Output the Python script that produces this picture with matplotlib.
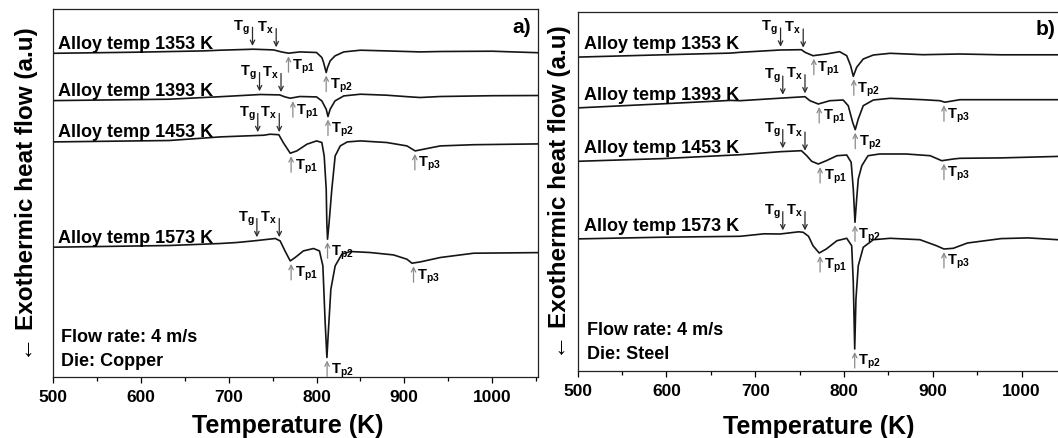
import numpy as np
import matplotlib
matplotlib.use('Agg')
import matplotlib.pyplot as plt
from matplotlib.ticker import MultipleLocator

plt.rcParams['font.family'] = ['Liberation Sans', 'DejaVu Sans']
plt.rcParams['font.weight'] = 'bold'
plt.rcParams['mathtext.fontset'] = 'custom'
plt.rcParams['mathtext.rm'] = 'Liberation Sans:bold'
plt.rcParams['mathtext.it'] = 'Liberation Sans:bold'
plt.rcParams['mathtext.bf'] = 'Liberation Sans:bold'
plt.rcParams['mathtext.default'] = 'rm'

alloy_temps = [1353, 1393, 1453, 1573]

# ---- a) copper die: temperature (K) / heat flow (a.u.)
cu_1353_T = [500, 593, 671, 690, 728, 751, 760, 768, 781, 800, 806, 808, 810, 811, 812.5, 815.5, 821, 831, 850, 880, 918, 941, 1000, 1052]
cu_1353_hf = [323.4, 324.5, 325.8, 326.5, 327.5, 326.8, 324.8, 323.5, 324.8, 324.2, 319.2, 314.2, 307.5, 304.2, 309.2, 315.8, 320.8, 324.8, 326.5, 325.8, 324.8, 325.2, 325.5, 324.0]

cu_1393_T = [500, 632, 690, 736, 758, 764, 770, 781, 800, 806, 811, 813, 815.5, 821, 831, 850, 880, 907, 918, 941, 1000, 1052]
cu_1393_hf = [276.1, 277.5, 280.0, 282.2, 281.8, 279.8, 278.5, 280.2, 279.8, 275.8, 267.5, 260.2, 267.5, 275.8, 280.8, 282.5, 281.5, 279.8, 279.2, 280.2, 281.0, 281.2]

cu_1453_T = [500, 632, 690, 740, 747, 757, 762, 770, 777.5, 789, 800, 806, 808.7, 811, 811.7, 812.5, 814.3, 817.4, 821.2, 827, 835, 850, 880, 903, 912.4, 922, 941, 979, 1052]
cu_1453_hf = [234.8, 236.2, 239.8, 241.5, 242.5, 242.0, 234.2, 223.5, 225.8, 232.5, 235.8, 234.2, 220.8, 187.5, 154.2, 137.5, 154.2, 187.5, 220.8, 230.8, 234.8, 235.8, 234.2, 230.8, 225.8, 227.5, 230.8, 232.0, 232.8]

cu_1573_T = [500, 632, 690, 709, 728, 753, 758.5, 764, 770, 775.6, 785, 796.5, 803.3, 807.2, 809.8, 811.8, 813.6, 816.3, 821.2, 828.8, 838.3, 861, 887.7, 903, 908.7, 918.2, 941, 979, 1052]
cu_1573_hf = [129.5, 131.2, 133.2, 134.2, 135.8, 138.2, 135.8, 125.8, 115.8, 119.2, 125.8, 128.2, 125.8, 110.8, 54.2, 19.2, 47.5, 87.5, 110.8, 122.5, 125.2, 124.2, 121.8, 117.5, 113.5, 114.8, 119.2, 123.5, 124.1]

# ---- b) steel die
st_1353_T = [500, 596, 672, 683, 728, 752, 756, 765, 780, 795, 803, 807.4, 810.4, 814.2, 821.6, 833, 852, 889, 930, 977, 1050]
st_1353_hf = [313.6, 315.9, 317.6, 318.4, 320.7, 321.0, 318.4, 315.0, 316.7, 319.0, 315.0, 305.0, 294.4, 303.4, 311.7, 315.7, 317.4, 316.0, 316.7, 315.9, 315.9]

st_1393_T = [500, 596, 672, 683, 731.5, 756, 761.6, 771, 784, 799, 804.7, 809.7, 812.6, 816, 821.6, 833, 852, 889, 908, 913.6, 930.5, 1050]
st_1393_hf = [262.8, 266.9, 270.3, 270.0, 272.7, 274.0, 270.0, 266.7, 270.0, 270.7, 265.0, 248.4, 241.0, 251.7, 265.0, 270.7, 272.4, 271.0, 270.0, 268.5, 271.0, 271.0]

st_1453_T = [500, 596, 672, 683, 728, 752, 758, 763.5, 771, 780, 792, 803, 808, 810.4, 812.3, 814.2, 816, 820, 827, 840, 870, 897, 910, 923, 930.5, 977, 1050]
st_1453_hf = [209.4, 212.1, 215.5, 216.0, 219.0, 220.0, 215.0, 209.4, 206.7, 210.0, 215.0, 215.7, 208.4, 181.7, 148.4, 171.7, 191.7, 205.0, 215.0, 216.7, 216.7, 215.0, 210.0, 211.7, 212.4, 212.8, 214.5]

st_1573_T = [500, 596, 683, 710, 728, 749, 754, 760, 765, 772, 780, 792, 803, 808.6, 810.4, 812, 813.4, 816, 821.6, 833, 852, 885.5, 904, 912.5, 923, 939, 977, 1007, 1050]
st_1573_hf = [131.8, 133.5, 134.4, 136.9, 136.7, 138.9, 138.4, 134.4, 125.0, 117.7, 121.7, 130.0, 132.4, 125.0, 88.4, 21.7, 71.7, 105.0, 123.4, 131.0, 132.4, 131.0, 125.0, 121.7, 122.4, 127.7, 132.1, 132.8, 130.5]

# characteristic temperatures marked on each curve (K), order = alloy_temps
cu_tg = [727, 735, 733, 732]
cu_tx = [754, 759.5, 757.5, 757.5]
cu_tp1 = [768, 773, 771, 771]
cu_tp2 = [811, 813, 812.5, 812]
cu_tp3 = [None, None, 912, 910.5]

st_tg = [728.5, 731, 731, 731]
st_tx = [754, 756, 756, 756]
st_tp1 = [766, 772, 773, 773]
st_tp2 = [811, 812.6, 812.3, 812]
st_tp3 = [None, 912.5, 912.5, 912.5]

PX = 0.72  # points per pixel at dpi 100

fig = plt.figure(figsize=(10.58, 4.39), dpi=100)
ax_a = fig.add_axes([0.0504, 0.1396, 0.4578, 0.8376])
ax_b = fig.add_axes([0.5460, 0.1533, 0.4616, 0.8164])


def mark_down(ax, t, T, hf, name):
    y = np.interp(t, T, hf)
    ax.annotate('', xy=(t, y), xytext=(0, 22 * PX), textcoords='offset points',
                arrowprops=dict(arrowstyle='->', color='#2b2b2b', lw=0.9,
                                shrinkA=0, shrinkB=3.3 * PX, mutation_scale=8))
    ax.annotate(r'$T_{%s}$' % name, xy=(t, y), xytext=(-2.5 * PX, 20 * PX),
                textcoords='offset points', ha='right', va='baseline', fontsize=10.5)


def mark_up(ax, t, T, hf, name):
    T = np.asarray(T)
    hf = np.asarray(hf)
    near = np.abs(T - t) <= 4
    y = hf[near].min() if near.any() else np.interp(t, T, hf)
    ax.annotate('', xy=(t, y), xytext=(0, -19 * PX), textcoords='offset points',
                arrowprops=dict(arrowstyle='->', color='#8a8a8a', lw=0.9,
                                shrinkA=0, shrinkB=3 * PX, mutation_scale=8))
    ax.annotate(r'$T_{%s}$' % name, xy=(t, y), xytext=(3.5 * PX, -15 * PX),
                textcoords='offset points', ha='left', va='baseline', fontsize=10.5)


def panel(ax, curves, tg, tx, tp1, tp2, tp3, xmax, lab_dx, lab_dy, die, tag, tag_xy,
          ylim, xlab_xy, ylab_x, note_x, note_y):
    for k, (T, hf) in enumerate(curves):
        ax.plot(T, hf, color='#151515', lw=1.2)
        ax.annotate(f'Alloy temp {alloy_temps[k]} K', xy=(T[0], hf[0]),
                    xytext=(lab_dx * PX, lab_dy * PX), textcoords='offset points',
                    fontsize=13, va='baseline', ha='left')
        mark_down(ax, tg[k], T, hf, 'g')
        mark_down(ax, tx[k], T, hf, 'x')
        mark_up(ax, tp1[k], T, hf, 'p1')
        mark_up(ax, tp2[k], T, hf, 'p2')
        if tp3[k] is not None:
            mark_up(ax, tp3[k], T, hf, 'p3')

    ax.set_xlim(500, xmax)
    ax.set_ylim(*ylim)
    ax.set_yticks([])
    ax.set_xticks(range(500, 1001, 100))
    ax.xaxis.set_minor_locator(MultipleLocator(50))
    ax.tick_params(axis='x', which='major', direction='out', length=4.1, width=0.9,
                   labelsize=12.5, pad=5)
    ax.tick_params(axis='x', which='minor', direction='out', length=2.9, width=0.9)
    for s in ax.spines.values():
        s.set_linewidth(0.9)
        s.set_color('#222222')

    ax.set_xlabel('Temperature (K)', fontsize=18, fontweight='bold')
    ax.xaxis.set_label_coords(*xlab_xy)
    ax.set_ylabel('\u2190 Exothermic heat flow (a.u)', fontsize=17.5, fontweight='bold')
    ax.yaxis.set_label_coords(ylab_x, 0.5)

    ax.text(note_x, note_y[0], 'Flow rate: 4 m/s', transform=ax.transAxes,
            fontsize=13, va='baseline')
    ax.text(note_x, note_y[1], die, transform=ax.transAxes, fontsize=13, va='baseline')
    ax.text(tag_xy[0], tag_xy[1], tag, transform=ax.transAxes, fontsize=15,
            ha='right', va='top')


panel(ax_a,
      [(cu_1353_T, cu_1353_hf), (cu_1393_T, cu_1393_hf),
       (cu_1453_T, cu_1453_hf), (cu_1573_T, cu_1573_hf)],
      cu_tg, cu_tx, cu_tp1, cu_tp2, cu_tp3, 1052, 4.2, 5.7,
      'Die: Copper', 'a)', (0.986, 0.977), (0, 367.7), (0.483, -0.1), -0.031,
      0.0157, (0.097, 0.032))

panel(ax_b,
      [(st_1353_T, st_1353_hf), (st_1393_T, st_1393_hf),
       (st_1453_T, st_1453_hf), (st_1573_T, st_1573_hf)],
      st_tg, st_tx, st_tp1, st_tp2, st_tp3, 1050, 6.1, 9.0,
      'Die: Steel', 'b)', (0.978, 0.981), (0, 358.4), (0.4935, -0.122), -0.0127,
      0.0195, (0.102, 0.0357))

fig.savefig('out.png', dpi=100)
